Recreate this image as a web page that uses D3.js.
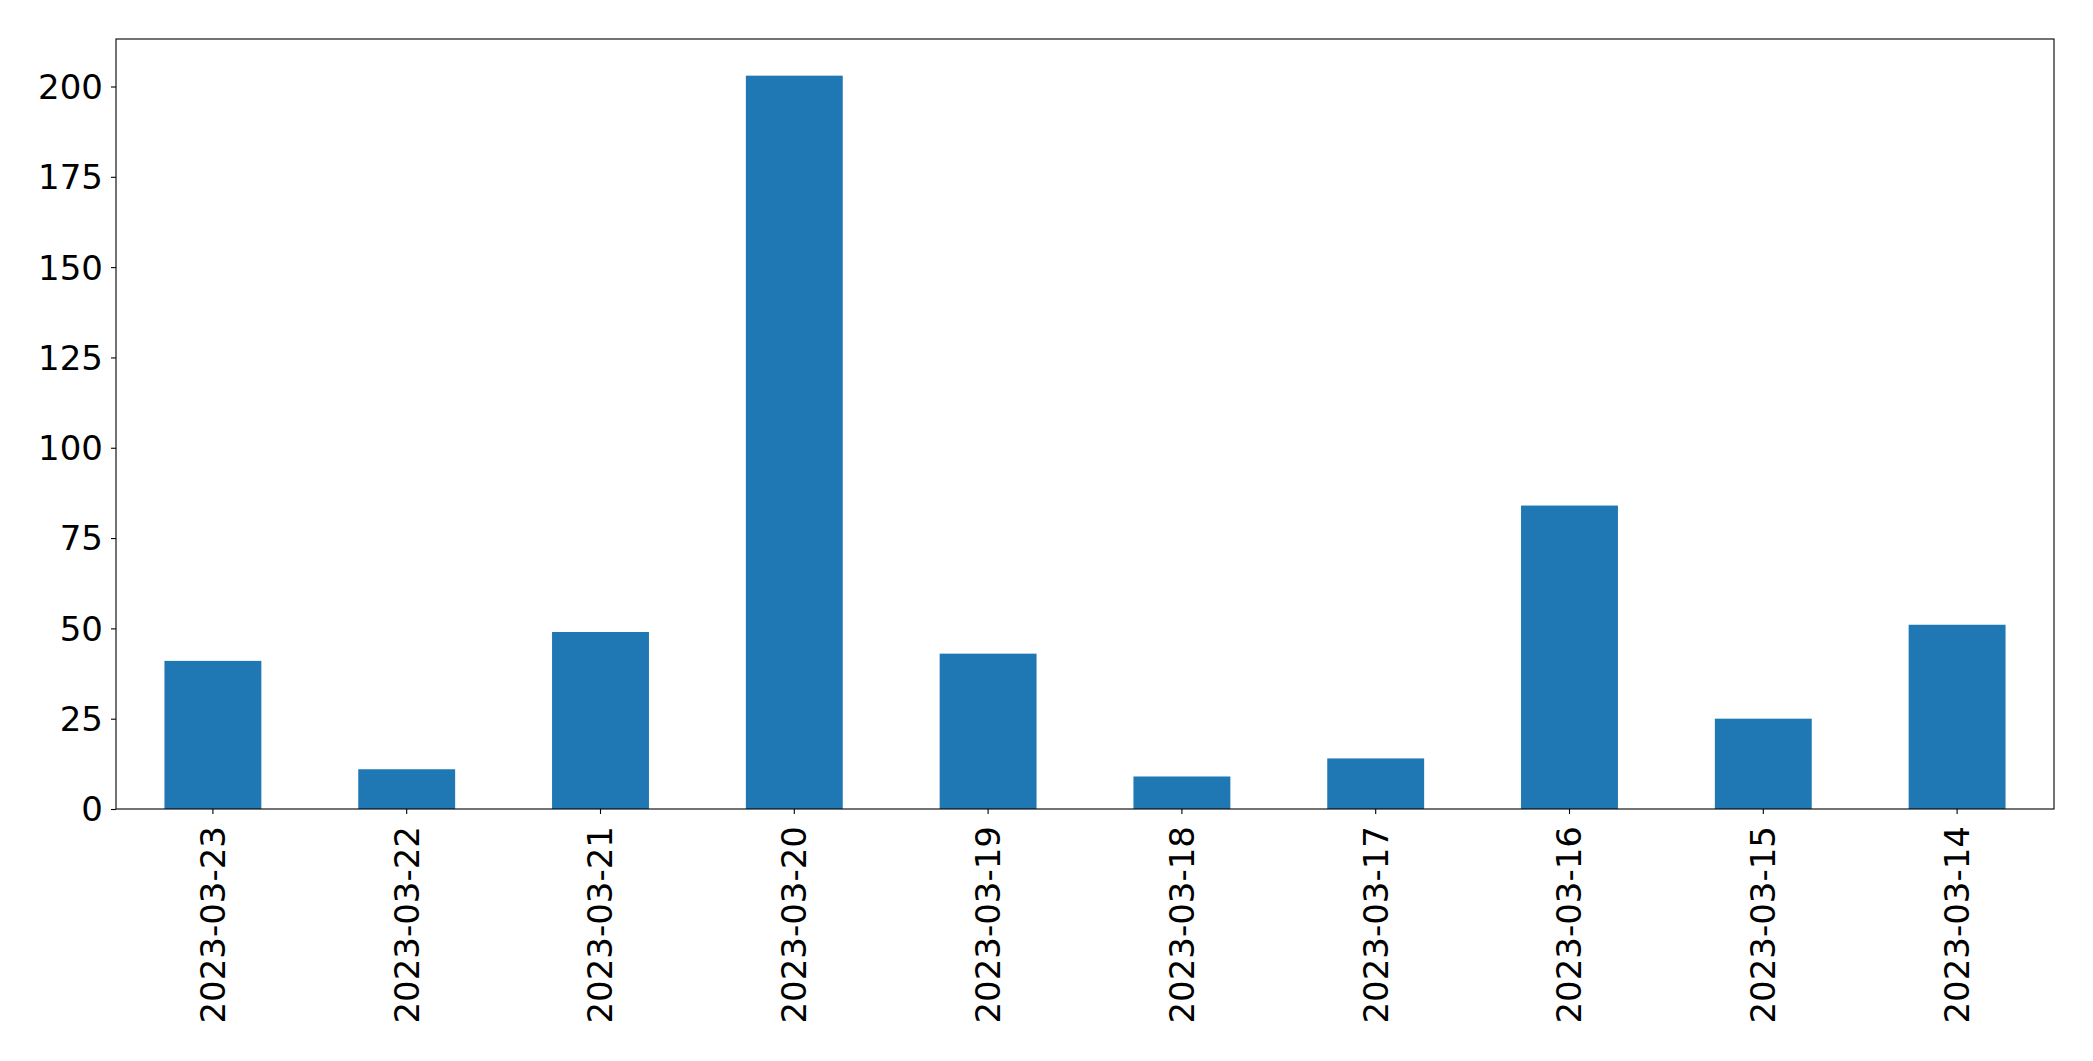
<!DOCTYPE html>
<html>
<head>
<meta charset="utf-8">
<script src="https://cdn.jsdelivr.net/npm/d3@7"></script>
<style>
  html, body { margin: 0; padding: 0; background: #fff; }
  svg { display: block; }
  text { font-family: "DejaVu Sans", sans-serif; fill: #000; }
</style>
</head>
<body>
<script>
const categories = ["2023-03-23","2023-03-22","2023-03-21","2023-03-20","2023-03-19","2023-03-18","2023-03-17","2023-03-16","2023-03-15","2023-03-14"];
const values = [41, 11, 49, 203, 43, 9, 14, 84, 25, 51];
const yTicks = [0, 25, 50, 75, 100, 125, 150, 175, 200];

const W = 2093, H = 1061;
const margin = { left: 116, right: W - 2054, top: 39, bottom: H - 809 };
const iw = W - margin.left - margin.right;
const ih = H - margin.top - margin.bottom;

const svg = d3.select("body").append("svg").attr("width", W).attr("height", H);
const g = svg.append("g").attr("transform", `translate(${margin.left},${margin.top})`);

const x = d3.scaleBand().domain(categories).range([0, iw]).paddingInner(0.5).paddingOuter(0.25);
const y = d3.scaleLinear().domain([0, d3.max(values) * 1.05]).range([ih, 0]);

g.selectAll("rect.bar").data(values).enter().append("rect")
  .attr("class", "bar")
  .attr("x", (d, i) => x(categories[i]))
  .attr("width", x.bandwidth())
  .attr("y", d => y(d))
  .attr("height", d => ih - y(d))
  .attr("fill", "#1f77b4");

const yAxis = g.append("g").call(d3.axisLeft(y).tickValues(yTicks).tickSize(5).tickPadding(8).tickFormat(d3.format("d")));
yAxis.select(".domain").remove();
yAxis.selectAll("line").attr("stroke", "#000").attr("stroke-width", 1.1);
yAxis.selectAll("text").style("font-size", "34px").attr("dy", "0.35em");

const xAxis = g.append("g").attr("transform", `translate(0,${ih})`)
  .call(d3.axisBottom(x).tickSize(5).tickPadding(12));
xAxis.select(".domain").remove();
xAxis.selectAll("line").attr("stroke", "#000").attr("stroke-width", 1.1);
xAxis.selectAll("text")
  .style("font-size", "34px")
  .attr("transform", "rotate(-90)")
  .attr("text-anchor", "end")
  .attr("x", -17)
  .attr("y", 0)
  .attr("dy", "0.35em");

g.append("rect").attr("x", 0).attr("y", 0).attr("width", iw).attr("height", ih)
  .attr("fill", "none").attr("stroke", "#000").attr("stroke-width", 1.1);
</script>
</body>
</html>
